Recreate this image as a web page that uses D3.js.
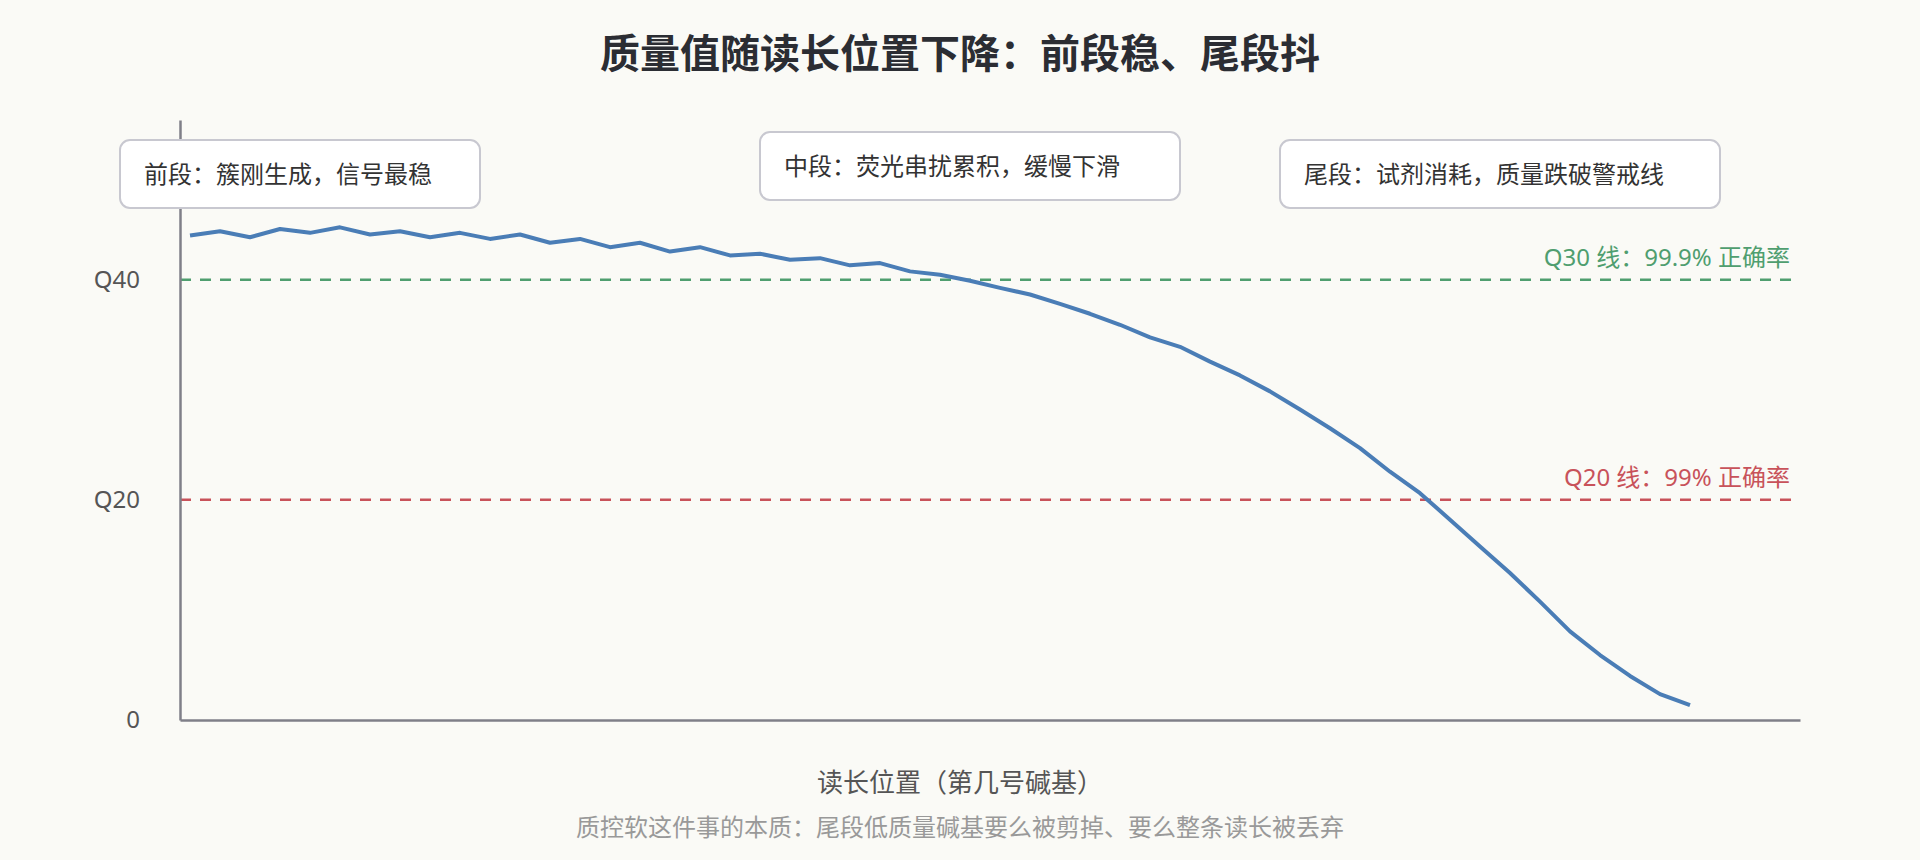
<!DOCTYPE html>
<html>
<head>
<meta charset="utf-8">
<script src="https://cdn.jsdelivr.net/npm/d3@7"></script>
<style>
  body { margin: 0; background: #fafaf6; }
  svg text { font-family: "Noto Sans", "Noto Sans CJK SC", sans-serif; }
</style>
</head>
<body>
<div id="chart"></div>
<script>
// read position (base index) and mean quality at that position
const positions = [1, 4, 7, 10, 13, 16, 19, 22, 25, 28, 31, 34, 37, 40, 43, 46, 49, 52, 55, 58,
  61, 64, 67, 70, 73, 76, 79, 82, 85, 88, 91, 94, 97, 100, 103, 106, 109, 112, 115, 118,
  121, 124, 127, 130, 133, 136, 139, 142, 145, 148, 151];
const quality = [44.0, 44.4, 43.85, 44.6, 44.25, 44.75, 44.1, 44.4, 43.85, 44.25,
  43.7, 44.1, 43.35, 43.7, 42.95, 43.35, 42.55, 42.95, 42.2, 42.35,
  41.8, 41.95, 41.3, 41.5, 40.75, 40.45, 39.9, 39.25, 38.65, 37.8,
  36.9, 35.9, 34.75, 33.9, 32.55, 31.3, 29.85, 28.2, 26.5, 24.7,
  22.55, 20.6, 18.2, 15.75, 13.35, 10.75, 8.05, 5.9, 4.0, 2.35, 1.35];

const yTicks = [0, 20, 40];
const yTickLabels = ["0", "Q20", "Q40"];

const thresholdValues = [40, 20];
const thresholdLabels = ["Q30 线：99.9% 正确率", "Q20 线：99% 正确率"];
const thresholdColors = ["#4f9e6f", "#c8525a"];

const notes = ["前段：簇刚生成，信号最稳", "中段：荧光串扰累积，缓慢下滑", "尾段：试剂消耗，质量跌破警戒线"];

const title = "质量值随读长位置下降：前段稳、尾段抖";
const xTitle = "读长位置（第几号碱基）";
const caption = "质控软这件事的本质：尾段低质量碱基要么被剪掉、要么整条读长被丢弃";

var width = 1920;
var height = 860;
var margin = { left: 180, right: 120, top: 120, bottom: 140 };
var innerWidth = width - margin.left - margin.right;
var innerHeight = height - margin.top - margin.bottom;

var svg = d3.select("#chart").append("svg")
  .attr("width", width)
  .attr("height", height)
  .style("background", "#fafaf6");

svg.append("text")
  .attr("x", width / 2)
  .attr("y", 68)
  .attr("text-anchor", "middle")
  .style("font-size", "40px")
  .style("font-weight", "bold")
  .style("fill", "#2b2d33")
  .text(title);

var g = svg.append("g")
  .attr("transform", "translate(" + margin.left + "," + margin.top + ")");

var xScale = d3.scaleLinear().domain([0, 162]).range([0, innerWidth]);
var yScale = d3.scaleLinear().domain([0, 54.5]).range([innerHeight, 0]);

// thresholds
var th = g.selectAll(".threshold")
  .data(thresholdValues)
  .enter().append("g")
  .attr("class", "threshold");

th.append("line")
  .attr("x1", 0)
  .attr("x2", innerWidth)
  .attr("y1", d => yScale(d))
  .attr("y2", d => yScale(d))
  .attr("stroke", (d, i) => thresholdColors[i])
  .attr("stroke-width", 2.5)
  .attr("stroke-dasharray", "11,9");

th.append("text")
  .attr("x", innerWidth - 10)
  .attr("y", d => yScale(d) - 14)
  .attr("text-anchor", "end")
  .style("font-size", "24px")
  .style("fill", (d, i) => thresholdColors[i])
  .text((d, i) => thresholdLabels[i]);

// axes
var yAxis = d3.axisLeft(yScale)
  .tickValues(yTicks)
  .tickFormat((d, i) => yTickLabels[i])
  .tickSize(0)
  .tickSizeOuter(0)
  .tickPadding(40);

var xAxis = d3.axisBottom(xScale)
  .tickValues([])
  .tickSizeOuter(0);

var yAxisG = g.append("g").call(yAxis);
var xAxisG = g.append("g").attr("transform", "translate(0," + innerHeight + ")").call(xAxis);

[yAxisG, xAxisG].forEach(a => {
  a.select(".domain").attr("stroke", "#7f7f88").attr("stroke-width", 2.5);
});
yAxisG.selectAll("text")
  .style("font-size", "24px")
  .style("fill", "#555")
  .style("font-family", "'Noto Sans', 'Noto Sans CJK SC', sans-serif");

// quality curve
var line = d3.line()
  .x((d, i) => xScale(positions[i]))
  .y(d => yScale(d));

g.append("path")
  .datum(quality)
  .attr("fill", "none")
  .attr("stroke", "#4a7db6")
  .attr("stroke-width", 4)
  .attr("stroke-linejoin", "round")
  .attr("d", line);

// annotation boxes
var boxX = [120, 760, 1280];
var boxY = [140, 132, 140];
var boxW = [360, 420, 440];

var note = svg.selectAll(".note")
  .data(notes)
  .enter().append("g")
  .attr("class", "note")
  .attr("transform", (d, i) => "translate(" + boxX[i] + "," + boxY[i] + ")");

note.append("rect")
  .attr("width", (d, i) => boxW[i])
  .attr("height", 68)
  .attr("rx", 10)
  .attr("fill", "#fff")
  .attr("stroke", "#c8c8d0")
  .attr("stroke-width", 2);

note.append("text")
  .attr("x", 24)
  .attr("y", 43)
  .style("font-size", "24px")
  .style("fill", "#333")
  .text(d => d);

svg.append("text")
  .attr("x", width / 2)
  .attr("y", 792)
  .attr("text-anchor", "middle")
  .style("font-size", "26px")
  .style("fill", "#555")
  .text(xTitle);

svg.append("text")
  .attr("x", width / 2)
  .attr("y", 836)
  .attr("text-anchor", "middle")
  .style("font-size", "24px")
  .style("fill", "#999")
  .text(caption);
</script>
</body>
</html>
